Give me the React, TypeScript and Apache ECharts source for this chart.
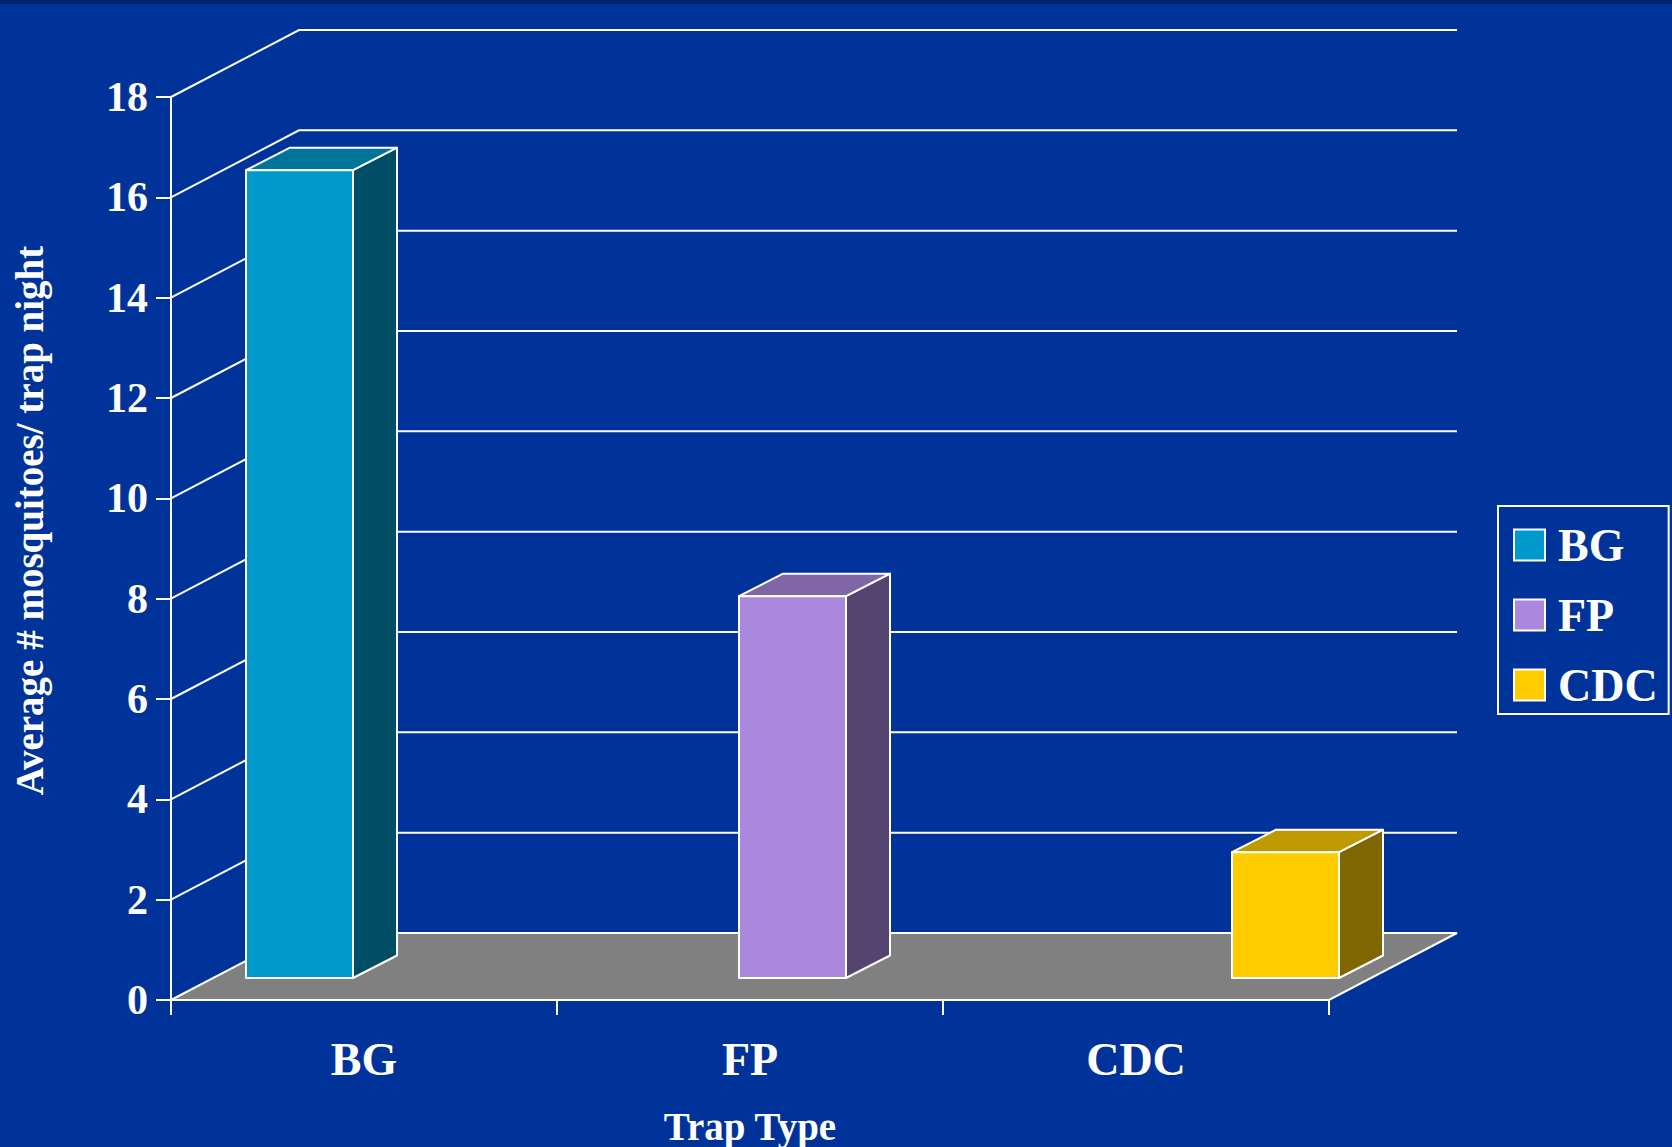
import React, { useEffect, useRef } from "react";
import * as echarts from "echarts";

// Average catch per trap night for each trap type
const trapTypes = ["BG", "FP", "CDC"];
const bgValues = [16.12];
const fpValues = [7.62];
const cdcValues = [2.51];
const yTicks = [0, 2, 4, 6, 8, 10, 12, 14, 16, 18];
const trapColors = ["#0099CC", "#AA88DD", "#FFCC00"];

const WALL_DX = 128;
const WALL_DY = -67;
const BAR_WIDTH = 107;
const BAR_DX = 44;
const BAR_DY = -22.5;
const LINE = "#FFFFFF";
const FONT = "Liberation Serif";

const shade = (hex: string, k: number) => {
  const n = parseInt(hex.slice(1), 16);
  const c = [(n >> 16) & 255, (n >> 8) & 255, n & 255].map((v) => Math.round(v * k));
  return `rgb(${c[0]},${c[1]},${c[2]})`;
};

// Walls: each tick runs back along the side wall, then across the rear wall.
const renderWallLine = (params: any, api: any) => {
  const cs = params.coordSys;
  const y = api.coord([0, api.value(0)])[1];
  if (api.value(0) === 0) return { type: "group", children: [] };
  return {
    type: "polyline",
    shape: {
      points: [
        [cs.x, y],
        [cs.x + WALL_DX, y + WALL_DY],
        [cs.x + cs.width + WALL_DX, y + WALL_DY],
      ],
    },
    style: { stroke: LINE, lineWidth: 2, fill: "none" },
  };
};

const renderFloor = (params: any, api: any) => {
  const cs = params.coordSys;
  const y = api.coord([0, api.value(0)])[1];
  return {
    type: "polygon",
    shape: {
      points: [
        [cs.x, y],
        [cs.x + WALL_DX, y + WALL_DY],
        [cs.x + cs.width + WALL_DX, y + WALL_DY],
        [cs.x + cs.width, y],
      ],
    },
    style: { fill: "#808080", stroke: LINE, lineWidth: 2 },
  };
};

// One box: front face plus top and side faces in darker tones.
const renderBox = (color: string) => (_params: any, api: any) => {
  const top = api.coord([api.value(0), api.value(1)]);
  const base = api.coord([api.value(0), 0]);
  const x0 = top[0] - BAR_WIDTH / 2;
  const x1 = top[0] + BAR_WIDTH / 2;
  const edge = { stroke: LINE, lineWidth: 2, lineJoin: "round" };
  return {
    type: "group",
    children: [
      {
        type: "polygon",
        shape: {
          points: [
            [x1, top[1]],
            [x1 + BAR_DX, top[1] + BAR_DY],
            [x1 + BAR_DX, base[1] + BAR_DY],
            [x1, base[1]],
          ],
        },
        style: { fill: shade(color, 0.5), ...edge },
      },
      {
        type: "polygon",
        shape: {
          points: [
            [x0, top[1]],
            [x0 + BAR_DX, top[1] + BAR_DY],
            [x1 + BAR_DX, top[1] + BAR_DY],
            [x1, top[1]],
          ],
        },
        style: { fill: shade(color, 0.75), ...edge },
      },
      {
        type: "rect",
        shape: { x: x0, y: top[1], width: BAR_WIDTH, height: base[1] - top[1] },
        style: { fill: color, ...edge },
      },
    ],
  };
};

const boxSeries = (name: string, index: number, values: number[]) => ({
  type: "custom",
  name,
  xAxisIndex: 1,
  yAxisIndex: 1,
  z: 5,
  itemStyle: { color: trapColors[index] },
  encode: { x: 0, y: 1 },
  data: values.map((v) => [index, v]),
  renderItem: renderBox(trapColors[index]),
});

export default function App() {
  const ref = useRef<HTMLDivElement>(null);

  useEffect(() => {
    const chart = echarts.init(ref.current!, undefined, { renderer: "svg" });
    chart.setOption({
      animation: false,
      backgroundColor: "#003399",
      textStyle: { fontFamily: FONT },
      graphic: [
        {
          type: "rect",
          shape: { x: 0, y: 0, width: 1672, height: 4 },
          style: { fill: "#00246E" },
        },
      ],
      grid: [
        { left: 171, top: 97, width: 1158, height: 903, outerBoundsMode: "none" },
        { left: 53, top: 76, width: 1479, height: 902, outerBoundsMode: "none" },
      ],
      xAxis: [
        {
          type: "category",
          gridIndex: 0,
          data: trapTypes,
          name: "Trap Type",
          nameLocation: "middle",
          nameGap: 107,
          nameTextStyle: { color: LINE, fontFamily: FONT, fontWeight: "bold", fontSize: 39 },
          axisLine: { lineStyle: { color: LINE, width: 2 } },
          axisTick: { show: true, alignWithLabel: false, length: 15, lineStyle: { color: LINE, width: 2 } },
          axisLabel: { color: LINE, fontFamily: FONT, fontWeight: "bold", fontSize: 46, margin: 36 },
        },
        { type: "category", gridIndex: 1, data: trapTypes, show: false },
      ],
      yAxis: [
        {
          type: "value",
          gridIndex: 0,
          min: 0,
          max: 18,
          interval: 2,
          name: "Average # mosquitoes/ trap night",
          nameLocation: "middle",
          nameGap: 122,
          nameRotate: 90,
          nameTextStyle: {
            color: LINE,
            fontFamily: FONT,
            fontWeight: "bold",
            fontSize: 39,
            padding: [0, 0, 0, 56],
          },
          splitLine: { show: false },
          axisLine: { show: true, lineStyle: { color: LINE, width: 2 } },
          axisTick: { show: true, length: 15, lineStyle: { color: LINE, width: 2 } },
          axisLabel: { color: LINE, fontFamily: FONT, fontWeight: "bold", fontSize: 42, margin: 23 },
        },
        { type: "value", gridIndex: 1, min: 0, max: 18, interval: 2, show: false },
      ],
      legend: {
        data: trapTypes,
        orient: "vertical",
        left: 1498,
        top: 506,
        padding: [16, 11, 6, 15],
        itemGap: 24,
        itemWidth: 31,
        itemHeight: 31,
        icon: "rect",
        borderColor: LINE,
        borderWidth: 2,
        itemStyle: { borderColor: LINE, borderWidth: 2 },
        textStyle: {
          color: LINE,
          fontFamily: FONT,
          fontWeight: "bold",
          fontSize: 46,
          padding: [0, 0, 0, 8],
        },
      },
      series: [
        {
          type: "custom",
          name: "walls",
          xAxisIndex: 0,
          yAxisIndex: 0,
          z: 2,
          data: yTicks.map((t) => [t]),
          encode: { y: 0 },
          renderItem: renderWallLine,
        },
        {
          type: "custom",
          name: "floor",
          xAxisIndex: 0,
          yAxisIndex: 0,
          z: 3,
          data: [[0]],
          encode: { y: 0 },
          renderItem: renderFloor,
        },
        boxSeries("BG", 0, bgValues),
        boxSeries("FP", 1, fpValues),
        boxSeries("CDC", 2, cdcValues),
      ],
    });
    return () => chart.dispose();
  }, []);

  return (
    <div
      ref={ref}
      style={{ position: "fixed", left: 0, top: 0, width: 1672, height: 1147 }}
    />
  );
}
